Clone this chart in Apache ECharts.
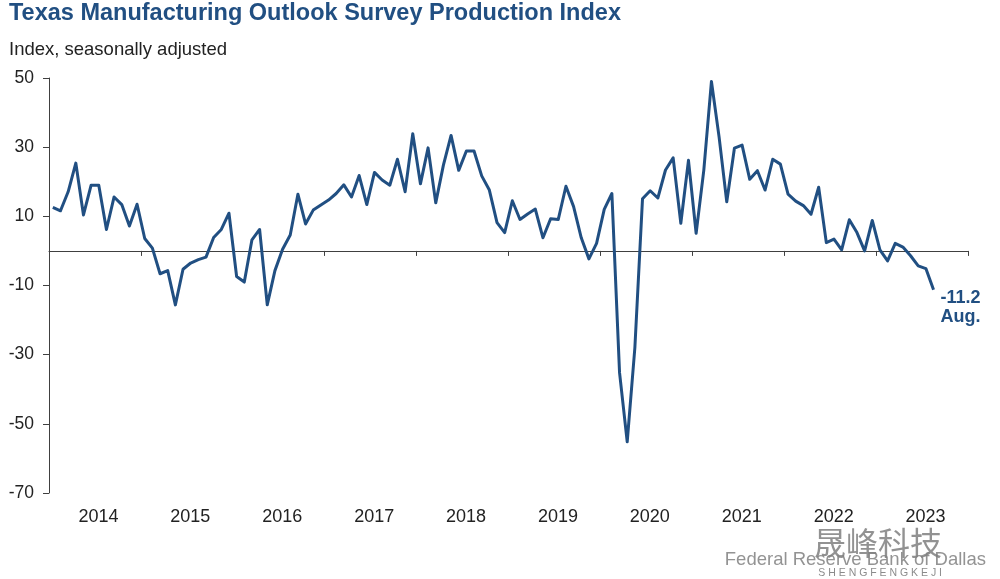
<!DOCTYPE html>
<html>
<head>
<meta charset="utf-8">
<script src="https://cdn.jsdelivr.net/npm/echarts@6/dist/echarts.min.js"></script>
<style>
  html, body { margin: 0; padding: 0; background: #ffffff; }
  #chart { width: 1000px; height: 579px; }
</style>
</head>
<body>
<div id="chart"></div>
<script>
// ---- Data ----
const titleText = 'Texas Manufacturing Outlook Survey Production Index';
const subtitleText = 'Index, seasonally adjusted';
const sourceText = 'Federal Reserve Bank of Dallas';
const years = ['2014', '2015', '2016', '2017', '2018', '2019', '2020', '2021', '2022', '2023'];
const yTickValues = [-70, -50, -30, -10, 10, 30, 50];
const lastMonthLabel = 'Aug.';

// Monthly production index, Jan 2014 .. Aug 2023
const v2014 = [12.6, 11.6, 17.1, 25.4, 10.4, 19.0, 19.0, 6.2, 15.6, 13.4, 7.2, 13.5];
const v2015 = [3.6, 0.8, -6.6, -5.7, -15.6, -5.3, -3.5, -2.5, -1.8, 3.9, 6.2, 10.9];
const v2016 = [-7.4, -9.0, 3.2, 6.2, -15.6, -5.7, 0.5, 4.6, 16.4, 7.8, 11.8, 13.3];
const v2017 = [14.7, 16.6, 19.1, 15.6, 21.8, 13.4, 22.7, 20.5, 19.0, 26.5, 17.1, 33.9];
const v2018 = [19.4, 29.8, 13.9, 24.8, 33.4, 23.3, 28.9, 28.9, 21.7, 17.6, 8.2, 5.3];
const v2019 = [14.5, 9.1, 10.7, 12.1, 3.8, 9.3, 9.1, 18.7, 12.8, 3.8, -2.3, 2.2];
const v2020 = [12.0, 16.6, -35.2, -55.2, -28.0, 15.1, 17.4, 15.3, 23.4, 26.9, 8.0, 26.2];
const v2021 = [5.1, 23.3, 49.0, 32.9, 14.2, 29.7, 30.6, 20.7, 23.2, 17.6, 26.5, 25.1];
const v2022 = [16.4, 14.4, 13.1, 10.6, 18.4, 2.4, 3.4, 0.3, 9.0, 5.3, 0.0, 8.8];
const v2023 = [0.3, -2.9, 2.2, 1.1, -1.4, -4.3, -5.1, -11.2];

const values = [].concat(v2014, v2015, v2016, v2017, v2018, v2019, v2020, v2021, v2022, v2023);
const months = [];
years.forEach(y => { for (let m = 1; m <= 12; m++) months.push(y + '-' + (m < 10 ? '0' + m : m)); });

const NAVY = '#214F82';
const AXIS = '#404040';
const FONT = '"Liberation Sans", Arial, sans-serif';

const chart = echarts.init(document.getElementById('chart'), null, { renderer: 'canvas' });
chart.setOption({
  animation: false,
  backgroundColor: '#ffffff',
  textStyle: { fontFamily: FONT },
  title: [
    { text: titleText, left: 9, top: 2, padding: 0,
      textStyle: { fontFamily: FONT, fontSize: 23.5, fontWeight: 'bold', color: NAVY } },
    { text: subtitleText, left: 9, top: 40, padding: 0,
      textStyle: { fontFamily: FONT, fontSize: 18.5, fontWeight: 'normal', color: '#222222' } }
  ],
  grid: { left: 49, right: 32, top: 78, bottom: 86 },
  xAxis: [
    {
      type: 'category', data: months, boundaryGap: true,
      axisLine: { show: true, onZero: true, lineStyle: { color: AXIS, width: 1 } },
      axisTick: { show: true, interval: 11, length: 5, lineStyle: { color: AXIS, width: 1 } },
      axisLabel: { show: false },
      splitLine: { show: false }
    },
    {
      type: 'category', data: years, boundaryGap: true, position: 'bottom',
      axisLine: { show: false, onZero: false },
      axisTick: { show: false },
      axisLabel: { show: true, margin: 15, fontSize: 18, color: '#222222', fontFamily: FONT, padding: [0, 0, 0, 7] },
      splitLine: { show: false }
    }
  ],
  yAxis: {
    type: 'value', min: -70, max: 50, interval: 20,
    axisLine: { show: true, lineStyle: { color: AXIS, width: 1 } },
    axisTick: { show: true, length: 6, customValues: yTickValues, lineStyle: { color: AXIS, width: 1 } },
    axisLabel: { show: true, customValues: yTickValues, margin: 15, fontSize: 17.5, color: '#222222', fontFamily: FONT },
    splitLine: { show: false }
  },
  series: [{
    type: 'line',
    xAxisIndex: 0,
    data: values,
    showSymbol: false,
    symbol: 'none',
    lineStyle: { color: NAVY, width: 3, join: 'round' },
    itemStyle: { color: NAVY },
    endLabel: {
      show: true,
      formatter: p => String(p.value) + '\n' + lastMonthLabel,
      distance: 7,
      offset: [0, 18],
      color: NAVY,
      fontFamily: FONT,
      fontWeight: 'bold',
      fontSize: 18,
      lineHeight: 19,
      align: 'left'
    }
  }],
  graphic: [
    { type: 'text', right: 58, top: 527, z: 5,
      style: { text: '晟峰科技', font: '32px "Noto Sans CJK SC", sans-serif', fill: 'rgba(110,110,110,0.75)' } },
    { type: 'text', right: 14, top: 550, z: 6,
      style: { text: sourceText, font: '18.5px ' + FONT, fill: 'rgba(128,128,128,0.85)' } },
    { type: 'text', right: 58, top: 568, z: 5,
      style: { text: 'S H E N G F E N G K E J I', font: '10.5px ' + FONT, fill: 'rgba(110,110,110,0.8)' } }
  ]
});
</script>
</body>
</html>
